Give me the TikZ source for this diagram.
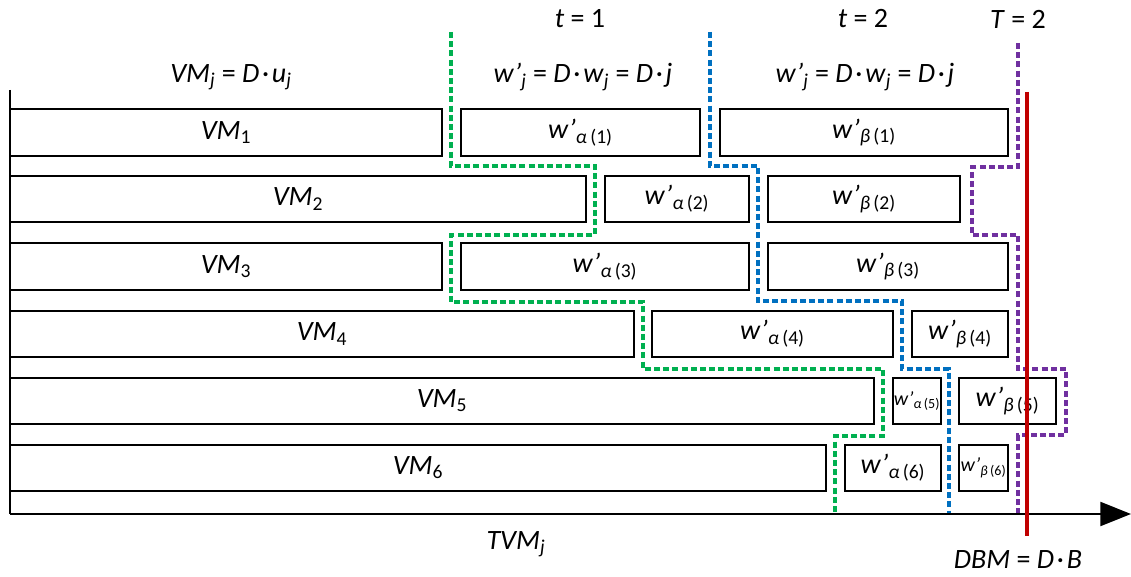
\documentclass[tikz,border=0pt]{standalone}
\usepackage{fontspec}
\setmainfont{Carlito}
\usetikzlibrary{fit,arrows.meta}
\newcommand\wsub[2]{\textit{w’}\textsubscript{\textit{#1}\,(#2)}}
\newcommand\vmsub[1]{\textit{VM}\textsubscript{#1}}
\newcommand\cdt{\kern0.1em·\kern0.1em}
\begin{document}
\begin{tikzpicture}[x=0.75pt,y=-0.75pt,
  every node/.style={font=\fontsize{21}{25}\selectfont},
  box/.style={draw=black,line width=1.6pt,fill=white,inner sep=0pt},
  small/.style={font=\fontsize{15}{18}\selectfont},
  sep/.style={line width=2.6pt,dash pattern=on 4.5pt off 2.4pt},
  grn/.style={sep,draw={rgb,255:red,0;green,176;blue,80}},
  blu/.style={sep,draw={rgb,255:red,0;green,112;blue,192}},
  pur/.style={sep,draw={rgb,255:red,112;green,48;blue,160}},
  lbl/.style={inner sep=0pt}]
\useasboundingbox (0,0) rectangle (1131,577);

% boxes: row 1
\node[box,fit={(10,109)(442,156)},label={[lbl]center:\vmsub{1}}] (vm1) {};
\node[box,fit={(461,109)(700,156)},label={[lbl]center:\wsub{α}{1}}] (a1) {};
\node[box,fit={(720,109)(1008,156)},label={[lbl]center:\wsub{β}{1}}] (b1) {};
% row 2
\node[box,fit={(10,176)(586,222)},label={[lbl]center:\vmsub{2}}] (vm2) {};
\node[box,fit={(605,176)(749,222)},label={[lbl]center:\wsub{α}{2}}] (a2) {};
\node[box,fit={(768,176)(960,222)},label={[lbl]center:\wsub{β}{2}}] (b2) {};
% row 3
\node[box,fit={(10,243)(442,290)},label={[lbl]center:\vmsub{3}}] (vm3) {};
\node[box,fit={(461,243)(749,290)},label={[lbl]center:\wsub{α}{3}}] (a3) {};
\node[box,fit={(768,243)(1008,290)},label={[lbl]center:\wsub{β}{3}}] (b3) {};
% row 4
\node[box,fit={(10,311)(634,357)},label={[lbl]center:\vmsub{4}}] (vm4) {};
\node[box,fit={(652,311)(893,357)},label={[lbl]center:\wsub{α}{4}}] (a4) {};
\node[box,fit={(912,311)(1008,357)},label={[lbl]center:\wsub{β}{4}}] (b4) {};
% row 5
\node[box,fit={(10,378)(874,424)},label={[lbl]center:\vmsub{5}}] (vm5) {};
\node[box,fit={(893,378)(941,424)},label={[lbl,small]center:\wsub{α}{5}}] (a5) {};
\node[box,fit={(959,378)(1056,424)},label={[lbl]center:\wsub{β}{5}}] (b5) {};
% row 6
\node[box,fit={(10,445)(826,491)},label={[lbl]center:\vmsub{6}}] (vm6) {};
\node[box,fit={(845,445)(941,491)},label={[lbl]center:\wsub{α}{6}}] (a6) {};
\node[box,fit={(959,445)(1008,491)},label={[lbl,small]center:\wsub{β}{6}}] (b6) {};

% axes
\coordinate (top) at (10,90);
\coordinate (org) at (10,514);
\coordinate (end) at (1131,514);
\draw[line width=1.6pt] (top) -- (org);
\draw[line width=1.6pt,-{Triangle[length=23pt,width=18pt]}] (org) -- (end);

% separators
\draw[grn] (451,32) -- (451,166) -- (595,166) -- (595,235) -- (451,235) -- (451,302)
  -- (643,302) -- (643,369) -- (883,369) -- (883,436) -- (835,436) -- (835,513);
\draw[blu] (710,32) -- (710,166) -- (758,166) -- (758,301) -- (902,301) -- (902,369)
  -- (949,369) -- (949,513);
\draw[pur] (1018,43) -- (1018,167) -- (972,167) -- (972,235) -- (1018,235) -- (1018,369)
  -- (1066,369) -- (1066,435) -- (1018,435) -- (1018,513);

% deadline
\coordinate (rt) at (1027,92);
\coordinate (rb) at (1027,536);
\draw[line width=3.2pt,draw={rgb,255:red,192;green,0;blue,0}] (rt) -- (rb);

% labels
\node[lbl] (t1) at (580,19) {\textit{t} = 1};
\node[lbl] (t2) at (863,19) {\textit{t} = 2};
\node[lbl] (T2) at (1018,19) {\textit{T} = 2};
\node[lbl] (f0) at (231,77) {\textit{VM}\textsubscript{\textit{j}} = \textit{D}\cdt\textit{u}\textsubscript{\textit{j}}};
\node[lbl] (f1) at (583,77) {\textit{w’}\textsubscript{\textit{j}} = \textit{D}\cdt\textit{w}\textsubscript{\textit{j}} = \textit{D}\cdt\textit{j}};
\node[lbl] (f2) at (865,77) {\textit{w’}\textsubscript{\textit{j}} = \textit{D}\cdt\textit{w}\textsubscript{\textit{j}} = \textit{D}\cdt\textit{j}};
\node[lbl] (tvm) at (516,544) {\textit{TVM}\textsubscript{\textit{j}}};
\node[lbl] (dbm) at (1018,560) {\textit{DBM} = \textit{D}\cdt\textit{B}};
\end{tikzpicture}
\end{document}
